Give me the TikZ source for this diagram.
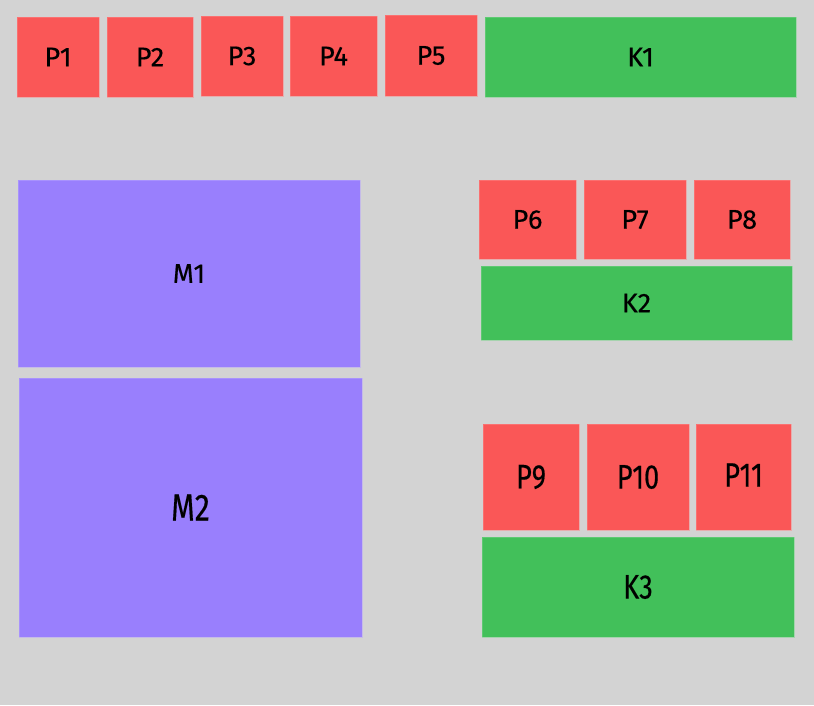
\documentclass[tikz,border=0pt]{standalone}
\usepackage{fontspec}
\usepackage{graphicx}
\setmainfont{Fira Sans}[FakeBold=1.3]
\definecolor{bg}{HTML}{D3D3D3}
\definecolor{pred}{HTML}{FA5757}
\definecolor{kgreen}{HTML}{42C05A}
\definecolor{mpurple}{HTML}{997FFD}
\tikzset{
  blk/.style={inner sep=0pt, text=black, draw opacity=0.5, line width=0.6pt},
  pbox/.style={blk, fill=pred, draw=pred!70!white, font=\fontsize{27}{27}\selectfont},
  kbox/.style={blk, fill=kgreen, draw=kgreen!70!white, font=\fontsize{27}{27}\selectfont},
  mbox/.style={blk, fill=mpurple, draw=mpurple!70!white, font=\fontsize{27}{27}\selectfont},
  big/.style={font=\fontsize{34}{34}\selectfont},
}
\newcommand{\narrow}[1]{\scalebox{0.8}[1]{#1}}
\begin{document}
\begin{tikzpicture}[x=1pt,y=-1pt]
\fill[bg] (0,0) rectangle (814,705);
\useasboundingbox (0,0) rectangle (814,705);
% top row
\node[pbox, minimum width=82pt, minimum height=80pt] (p1) at (58,57) {P1};
\node[pbox, minimum width=86pt, minimum height=80pt] (p2) at (150,57) {P2};
\node[pbox, minimum width=82pt, minimum height=80pt] (p3) at (242,56) {P3};
\node[pbox, minimum width=87pt, minimum height=80pt] (p4) at (333.5,56) {P4};
\node[pbox, minimum width=92pt, minimum height=81pt] (p5) at (431,55.5) {P5};
\node[kbox, minimum width=311pt, minimum height=80pt] (k1) at (640.5,57) {K1};
% middle right
\node[pbox, minimum width=97pt, minimum height=79pt] (p6) at (527.5,219.5) {P6};
\node[pbox, minimum width=102pt, minimum height=79pt] (p7) at (635,219.5) {P7};
\node[pbox, minimum width=96pt, minimum height=79pt] (p8) at (742,219.5) {P8};
\node[kbox, minimum width=311pt, minimum height=74pt] (k2) at (636.5,303) {K2};
% bottom right
\node[pbox, big, minimum width=96pt, minimum height=106pt] (p9) at (531,477) {\narrow{P9}};
\node[pbox, big, minimum width=102pt, minimum height=106pt] (p10) at (638,477) {\narrow{P10}};
\node[pbox, big, minimum width=95pt, minimum height=106pt] (p11) at (743.5,477) {\raisebox{4pt}{\narrow{P11}}};
\node[kbox, big, minimum width=312pt, minimum height=100pt] (k3) at (638,587) {\narrow{K3}};
% left
\node[mbox, minimum width=342pt, minimum height=187pt] (m1) at (189,273.5) {M1};
\node[mbox, font=\fontsize{38}{38}\selectfont, minimum width=343pt, minimum height=259pt] (m2) at (190.5,507.5) {\narrow{M2}};
\end{tikzpicture}
\end{document}
